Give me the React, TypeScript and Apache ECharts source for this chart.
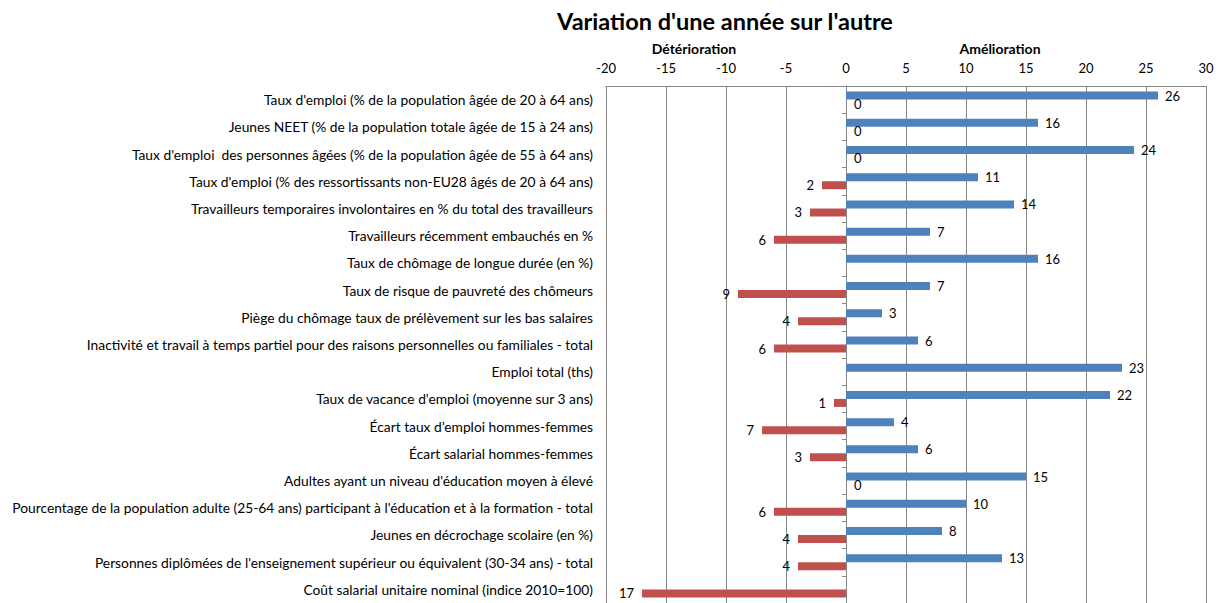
import React, { useEffect, useRef } from "react";
import * as echarts from "echarts";

const categories: string[] = [
  "Taux d'emploi (% de la population âgée de 20 à 64 ans)",
  "Jeunes NEET (% de la population totale âgée de 15 à 24 ans)",
  "Taux d'emploi  des personnes âgées (% de la population âgée de 55 à 64 ans)",
  "Taux d'emploi (% des ressortissants non-EU28 âgés de 20 à 64 ans)",
  "Travailleurs temporaires involontaires en % du total des travailleurs",
  "Travailleurs récemment embauchés en %",
  "Taux de chômage de longue durée (en %)",
  "Taux de risque de pauvreté des chômeurs",
  "Piège du chômage taux de prélèvement sur les bas salaires",
  "Inactivité et travail à temps partiel pour des raisons personnelles ou familiales - total",
  "Emploi total (ths)",
  "Taux de vacance d'emploi (moyenne sur 3 ans)",
  "Écart taux d’emploi hommes-femmes",
  "Écart salarial hommes-femmes",
  "Adultes ayant un niveau d'éducation moyen à élevé",
  "Pourcentage de la population adulte (25-64 ans) participant à l'éducation et à la formation - total",
  "Jeunes en décrochage scolaire (en %)",
  "Personnes diplômées de l'enseignement supérieur ou équivalent (30-34 ans) - total",
  "Coût salarial unitaire nominal (indice 2010=100)",
];

const amelioration: (number | null)[] = [26, 16, 24, 11, 14, 7, 16, 7, 3, 6, 23, 22, 4, 6, 15, 10, 8, 13, null];
const deterioration: (number | null)[] = [0, 0, 0, -2, -3, -6, null, -9, -4, -6, null, -1, -7, -3, 0, -6, -4, -4, -17];

const xTicks = { min: -20, max: 30, interval: 5 };

const FONT = "Lato";

export default function App() {
  const ref = useRef<HTMLDivElement>(null);
  useEffect(() => {
    if (!ref.current) return;
    const chart = echarts.init(ref.current, undefined, { renderer: "svg" });
    const labelStyle = { fontFamily: FONT, fontSize: 13, color: "#000" };
    chart.setOption({
      animation: false,
      backgroundColor: "#fff",
      title: {
        text: "Variation d'une année sur l'autre",
        left: 720,
        top: 4,
        textAlign: "center",
        textStyle: { fontFamily: FONT, fontWeight: "bold", fontSize: 23.5, color: "#000" },
      },
      graphic: [
        {
          type: "text",
          x: 694,
          y: 48,
          style: {
            text: "Détérioration",
            fontFamily: FONT,
            fontWeight: "bold",
            fontSize: 14,
            fill: "#000",
            textAlign: "center",
            textVerticalAlign: "middle",
          },
        },
        {
          type: "text",
          x: 1000,
          y: 48,
          style: {
            text: "Amélioration",
            fontFamily: FONT,
            fontWeight: "bold",
            fontSize: 14,
            fill: "#000",
            textAlign: "center",
            textVerticalAlign: "middle",
          },
        },
      ],
      grid: { left: 606, top: 86, width: 600, height: 520, containLabel: false },
      xAxis: {
        type: "value",
        position: "top",
        min: xTicks.min,
        max: xTicks.max,
        interval: xTicks.interval,
        axisLine: { show: true, lineStyle: { color: "#868686", width: 1 } },
        axisTick: { show: false },
        axisLabel: { ...labelStyle, margin: 12 },
        splitLine: { show: true, lineStyle: { color: "#868686", width: 1 } },
      },
      yAxis: [
        {
          type: "category",
          data: categories,
          inverse: true,
          axisLine: { show: false, onZero: false },
          axisTick: { show: false },
          axisLabel: { fontFamily: FONT, fontSize: 13.8, color: "#000", margin: 13 },
        },
        {
          type: "category",
          data: categories,
          inverse: true,
          position: "left",
          axisLine: { show: true, onZero: true, onZeroAxisIndex: 0, lineStyle: { color: "#868686" } },
          axisTick: { show: true, length: 4, lineStyle: { color: "#868686" } },
          axisLabel: { show: false },
        },
      ],
      series: [
        {
          name: "Amélioration",
          type: "bar",
          yAxisIndex: 0,
          data: amelioration,
          barWidth: 8,
          barGap: "0%",
          itemStyle: { color: "#4F81BD" },
          label: {
            show: true,
            position: "right",
            distance: 7,
            ...labelStyle,
          },
        },
        {
          name: "Détérioration",
          type: "bar",
          yAxisIndex: 0,
          data: deterioration.map((v) =>
            v === 0 ? { value: v, label: { position: "right" } } : v
          ),
          barWidth: 8,
          barGap: "0%",
          itemStyle: { color: "#C0504D" },
          label: {
            show: true,
            position: "left",
            distance: 8,
            ...labelStyle,
            formatter: (p: any) => String(Math.abs(p.value)),
          },
        },
      ],
    });
    return () => chart.dispose();
  }, []);
  return (
    <div
      ref={ref}
      style={{ position: "fixed", left: 0, top: 0, width: 1220, height: 603, background: "#fff" }}
    />
  );
}
